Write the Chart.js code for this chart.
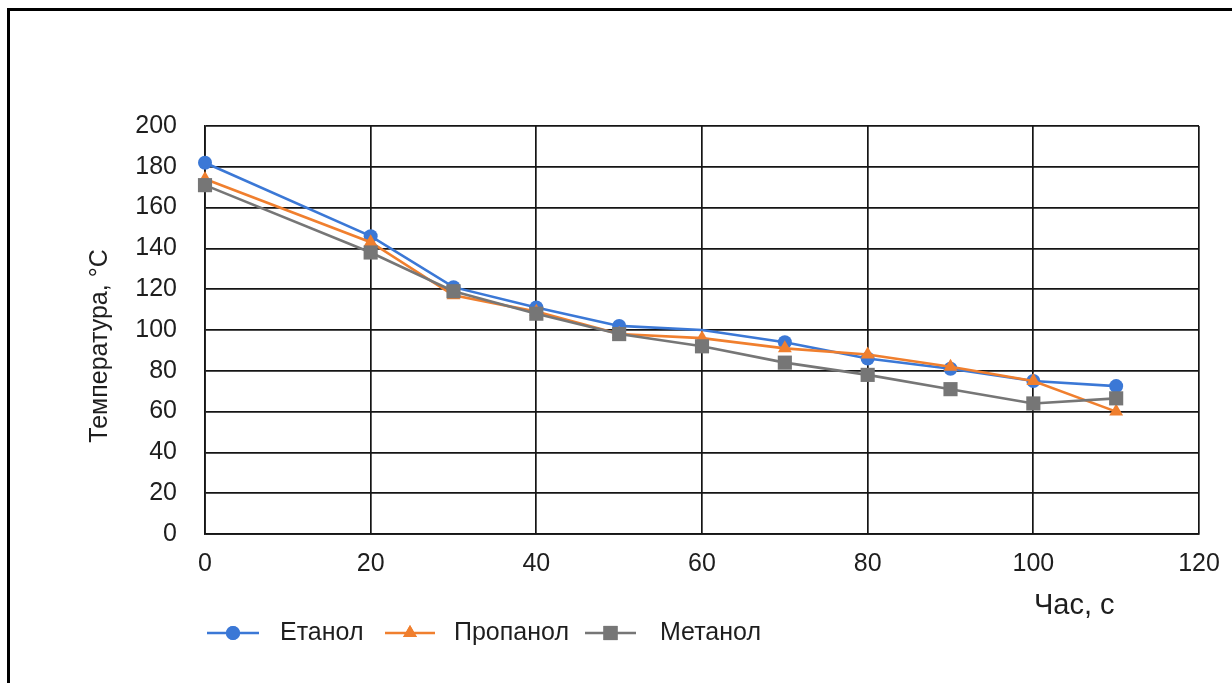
<!DOCTYPE html>
<html>
<head>
<meta charset="utf-8">
<script src="https://cdn.jsdelivr.net/npm/chart.js@4.4.1/dist/chart.umd.min.js"></script>
<style>
  html, body { margin: 0; padding: 0; background: #fff; overflow: hidden; }
  #frame { position: absolute; left: 7px; top: 8px; width: 1400px; height: 900px;
           border-left: 3px solid #000; border-top: 3px solid #000; }
  #wrap { position: absolute; left: 0; top: 0; width: 1232px; height: 683px; }
</style>
</head>
<body>
<div id="frame"></div>
<div id="wrap"><canvas id="chart"></canvas></div>
<script>
// Time, s
const times = [0, 20, 30, 40, 50, 60, 70, 80, 90, 100, 110];
// Temperature, °C
const ethanol  = [182, 146, 121, 111, 102, 100, 94, 86, 81, 75, 72.5];
const propanol = [174, 143, 117, 109, 98, 96, 91, 88, 82, 75, 60];
const methanol = [171, 138, 119, 108, 98, 92, 84, 78, 71, 64, 66.5];
const seriesNames = ['Етанол', 'Пропанол', 'Метанол'];
const xTitle = 'Час, с';
const yTitle = 'Температура, °C';

const BLUE = '#3b78d6', ORANGE = '#f07f2e', GRAY = '#767676';
const FONT = '"Liberation Sans", Arial, sans-serif';
const TEXT = '#1e1e1e';

const toPoints = vals => vals.map((v, i) => ({ x: times[i], y: v }));

// The ethanol point at 60 s carries no marker
const ethanolRadius = times.map(t => (t === 60 ? 0 : 7));

const datasets = [
  { label: seriesNames[0], data: toPoints(ethanol), borderColor: BLUE, backgroundColor: BLUE,
    pointStyle: 'circle', pointRadius: ethanolRadius, order: 3 },
  { label: seriesNames[1], data: toPoints(propanol), borderColor: ORANGE, backgroundColor: ORANGE,
    pointStyle: 'triangle', pointRadius: 8, order: 2 },
  { label: seriesNames[2], data: toPoints(methanol), borderColor: GRAY, backgroundColor: GRAY,
    pointStyle: 'rect', pointRadius: 10, order: 1 }
].map(d => Object.assign({ borderWidth: 2.6, pointBorderWidth: 0, tension: 0, fill: false, clip: false }, d));

// Axis titles and the line-with-marker legend under the plot
const extras = {
  id: 'extras',
  afterDraw(chart) {
    const ctx = chart.ctx;
    const area = chart.chartArea;
    ctx.save();
    ctx.fillStyle = TEXT;
    ctx.textBaseline = 'middle';

    // y title
    ctx.save();
    ctx.translate(100, 346);
    ctx.rotate(-Math.PI / 2);
    ctx.textAlign = 'center';
    ctx.font = '25px ' + FONT;
    ctx.fillText(yTitle, 0, 0);
    ctx.restore();

    // x title, set at the right end below the ticks
    ctx.textAlign = 'left';
    ctx.font = '29px ' + FONT;
    ctx.fillText(xTitle, area.right - 165, 606);

    // legend
    const items = [
      { x0: 207, x1: 259, tx: 280 },
      { x0: 385, x1: 435, tx: 454 },
      { x0: 585, x1: 636, tx: 660 }
    ];
    const ly = 633;
    chart.data.datasets.forEach((ds, i) => {
      const it = items[i];
      ctx.strokeStyle = ds.borderColor;
      ctx.lineWidth = 2.6;
      ctx.beginPath();
      ctx.moveTo(it.x0, ly);
      ctx.lineTo(it.x1, ly);
      ctx.stroke();
      const r = Array.isArray(ds.pointRadius) ? Math.max(...ds.pointRadius) : ds.pointRadius;
      ctx.fillStyle = ds.backgroundColor;
      Chart.helpers.drawPoint(ctx, { pointStyle: ds.pointStyle, radius: r, borderWidth: 0, rotation: 0 },
        (it.x0 + it.x1) / 2, ly);
      ctx.fill();
      ctx.fillStyle = TEXT;
      ctx.font = '25px ' + FONT;
      ctx.fillText(ds.label, it.tx, ly);
    });
    ctx.restore();
  }
};

const gridStyle = { color: '#151515', lineWidth: 1.7, drawTicks: false };

new Chart(document.getElementById('chart'), {
  type: 'line',
  data: { datasets },
  options: {
    responsive: true,
    maintainAspectRatio: false,
    animation: false,
    layout: { padding: { left: 125, top: 126, right: 33, bottom: 99 } },
    plugins: { legend: { display: false }, tooltip: { enabled: false } },
    scales: {
      x: {
        type: 'linear', min: 0, max: 120,
        grid: gridStyle,
        border: { color: '#151515', width: 1.7 },
        ticks: { stepSize: 20, padding: 15, color: TEXT, font: { family: FONT, size: 25 }, maxRotation: 0 },
        afterFit(scale) { scale.height = 50; scale.paddingLeft = 0; scale.paddingRight = 0; }
      },
      y: {
        min: 0, max: 200,
        grid: gridStyle,
        border: { color: '#151515', width: 1.7 },
        ticks: { stepSize: 20, padding: 28, color: TEXT, font: { family: FONT, size: 25 } },
        afterFit(scale) { scale.width = 80; scale.paddingTop = 0; scale.paddingBottom = 0; }
      }
    }
  },
  plugins: [extras]
});
</script>
</body>
</html>
